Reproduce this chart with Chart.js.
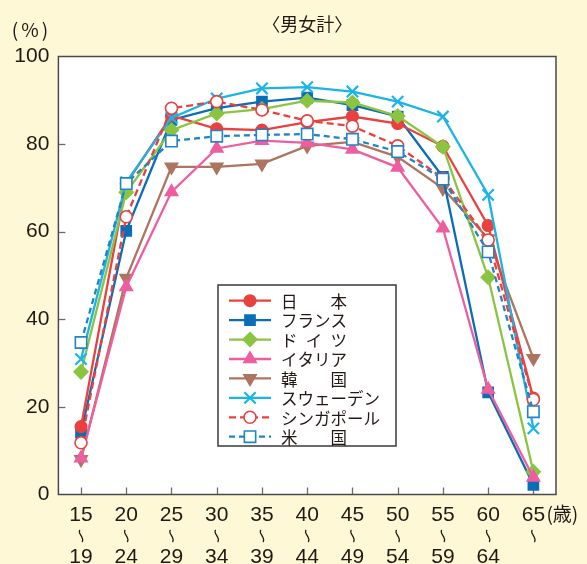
<!DOCTYPE html>
<html><head><meta charset="utf-8">
<script src="https://cdn.jsdelivr.net/npm/chart.js@4.4.0/dist/chart.umd.min.js"></script>
<style>html,body{margin:0;padding:0;background:#FFF8D6;}#wrap{width:587px;height:564px;}</style>
</head><body><div id="wrap"><canvas id="c" width="587" height="564"></canvas></div>
<script>
const ageFrom = ['15','20','25','30','35','40','45','50','55','60','65'];
const ageTo   = ['19','24','29','34','39','44','49','54','59','64',''];
const categories = ageFrom.map((a,i)=> a + '～' + ageTo[i]);
const yTickValues = [0,20,40,60,80,100];
const seriesNames = ['日　　本','フランス','ド\u2002イ\u2002ツ','イタリア','韓　　国','スウェーデン','シンガポール','米　　国'];

const japan     = [15.5,71.0,86.5,83.5,83.2,85.0,86.3,84.7,79.5,61.4,22.0];
const france    = [14.1,60.2,85.5,88.2,89.7,90.6,88.9,86.3,72.5,23.3,2.2];
const germany   = [28.0,69.0,83.2,87.0,88.0,89.9,89.5,86.4,79.4,49.6,5.2];
const italy     = [8.3,47.4,69.1,79.0,80.8,80.3,78.8,74.7,60.8,24.0,3.9];
const korea     = [8.0,49.4,74.8,74.8,75.5,79.6,80.5,77.1,69.9,58.4,31.1];
const sweden    = [30.9,71.3,86.0,90.4,92.7,93.0,92.0,89.7,86.3,68.4,15.1];
const singapore = [11.8,63.4,88.2,89.7,87.8,85.3,84.1,79.6,72.2,58.1,21.7];
const usa       = [34.7,71.0,80.7,81.8,82.1,82.3,81.1,78.3,72.0,55.4,18.9];

const BG = '#FFF8D6';
const TXT = '#231815';
const NUMFONT = '"Liberation Sans", Arial, sans-serif';
const JPFONT = '"Noto Sans CJK JP", sans-serif';

function ds(label, data, color, style, order, extra) {
  return Object.assign({
    label, data, order,
    borderColor: color, backgroundColor: color,
    pointBackgroundColor: color, pointBorderColor: color,
    borderWidth: 2.3, pointStyle: style, pointRadius: 6, pointHoverRadius: 6,
    pointBorderWidth: 1.5, tension: 0, clip: false
  }, extra || {});
}

const datasets = [
  ds(seriesNames[0], japan, '#E8413F', 'circle', 7, {pointRadius: 5.8}),
  ds(seriesNames[1], france, '#0A6DB7', 'rect', 8, {pointRadius: 7.2}),
  ds(seriesNames[2], germany, '#8BC441', 'rectRot', 6, {pointRadius: 7}),
  ds(seriesNames[3], italy, '#EE5E9F', 'triangle', 5, {pointRadius: 7.2}),
  ds(seriesNames[4], korea, '#AD7460', 'triangle', 9, {pointRadius: 7.2, pointRotation: 180}),
  ds(seriesNames[5], sweden, '#1BB4E9', 'crossRot', 3, {pointRadius: 8, pointBorderWidth: 2.2}),
  ds(seriesNames[6], singapore, '#E8413F', 'circle', 2, {pointRadius: 6, pointBackgroundColor: '#ffffff', borderDash: [7,4], pointBorderWidth: 1.6}),
  ds(seriesNames[7], usa, '#2184C6', 'rect', 1, {pointRadius: 8, pointBackgroundColor: '#ffffff', borderDash: [6,4], pointBorderWidth: 1.6})
];

const deco = {
  id: 'deco',
  beforeDraw(chart) {
    const ctx = chart.ctx, a = chart.chartArea;
    ctx.save();
    ctx.fillStyle = BG;
    ctx.fillRect(0, 0, chart.width, chart.height);
    ctx.fillStyle = '#ffffff';
    ctx.fillRect(a.left, a.top, a.right - a.left, a.bottom - a.top);
    const xs = chart.scales.x, ys = chart.scales.y;
    ctx.strokeStyle = '#6b6b6b';
    ctx.lineWidth = 1.3;
    yTickValues.forEach(v => {
      if (v === 0 || v === 100) return;
      const y = Math.round(ys.getPixelForValue(v)) + 0.5;
      ctx.beginPath(); ctx.moveTo(a.left, y); ctx.lineTo(a.left + 7, y); ctx.stroke();
    });
    categories.forEach((c, i) => {
      const x = Math.round(xs.getPixelForValue(i)) + 0.5;
      ctx.beginPath(); ctx.moveTo(x, a.bottom); ctx.lineTo(x, a.bottom - 7); ctx.stroke();
    });
    ctx.restore();
  },
  afterDraw(chart) {
    const ctx = chart.ctx, a = chart.chartArea;
    const xs = chart.scales.x;
    ctx.save();
    ctx.strokeStyle = '#4a4a4a';
    ctx.lineWidth = 1.5;
    ctx.strokeRect(a.left, a.top, a.right - a.left, a.bottom - a.top);
    ctx.fillStyle = TXT;
    ctx.textBaseline = 'middle';
    ctx.textAlign = 'center';
    ctx.font = '18px ' + JPFONT;
    ctx.fillText('〈男女計〉', (a.left + a.right) / 2, 24);
    ctx.font = '19px ' + JPFONT;
    ctx.fillText('(', 15, 30);
    ctx.fillText('%', 30, 30);
    ctx.fillText(')', 45, 30);
    ageFrom.forEach((lab, i) => {
      const x = xs.getPixelForValue(i);
      ctx.fillStyle = TXT;
      ctx.textAlign = 'center';
      ctx.font = '21px ' + NUMFONT;
      ctx.fillText(lab, x, 515);
      if (ageTo[i]) ctx.fillText(ageTo[i], x, 557);
      ctx.strokeStyle = TXT;
      ctx.lineWidth = 1.3;
      ctx.beginPath();
      ctx.moveTo(x - 1, 530);
      ctx.bezierCurveTo(x - 4.5, 533, x + 4.5, 538, x + 1, 542);
      ctx.stroke();
    });
    ctx.textAlign = 'left';
    ctx.font = '19px ' + JPFONT;
    ctx.fillText('(歳)', xs.getPixelForValue(ageFrom.length - 1) + 13, 514);

    const L = 218, T = 285, R = 396, B = 446;
    ctx.fillStyle = '#ffffff';
    ctx.fillRect(L, T, R - L, B - T);
    ctx.strokeStyle = '#3a3a3a';
    ctx.lineWidth = 1.5;
    ctx.strokeRect(L, T, R - L, B - T);
    chart.data.datasets.forEach((d, i) => {
      const y = 300.7 + i * 19.43;
      ctx.save();
      ctx.strokeStyle = d.borderColor;
      ctx.lineWidth = d.borderWidth;
      ctx.setLineDash(d.borderDash || []);
      ctx.beginPath(); ctx.moveTo(229, y); ctx.lineTo(271, y); ctx.stroke();
      ctx.setLineDash([]);
      ctx.fillStyle = d.pointBackgroundColor;
      ctx.strokeStyle = d.pointBorderColor;
      ctx.lineWidth = d.pointBorderWidth;
      Chart.helpers.drawPoint(ctx, {
        pointStyle: d.pointStyle, rotation: d.pointRotation || 0,
        radius: d.pointRadius, borderWidth: d.pointBorderWidth
      }, 250, y);
      ctx.restore();
      ctx.fillStyle = TXT;
      ctx.textAlign = 'left';
      ctx.textBaseline = 'middle';
      ctx.font = '16.5px ' + JPFONT;
      ctx.fillText(d.label, 281, y + 1);
    });
    ctx.restore();
  }
};

new Chart(document.getElementById('c'), {
  type: 'line',
  data: { labels: categories, datasets },
  options: {
    responsive: false,
    animation: false,
    devicePixelRatio: 1,
    layout: { padding: { top: 56.5, right: 31, left: 0, bottom: 0 } },
    plugins: { legend: { display: false }, tooltip: { enabled: false }, title: { display: false } },
    scales: {
      x: {
        type: 'category', offset: true,
        grid: { display: false }, border: { display: false },
        ticks: { display: false },
        afterFit(s) { s.height = 69.5; }
      },
      y: {
        min: 0, max: 100,
        grid: { display: false, drawTicks: false }, border: { display: false },
        ticks: {
          stepSize: 20, padding: 9, color: TXT,
          font: { size: 21, family: NUMFONT },
          callback: v => yTickValues.includes(v) ? String(v) : ''
        },
        afterFit(s) { s.width = 58.4; }
      }
    }
  },
  plugins: [deco]
});
</script></body></html>
